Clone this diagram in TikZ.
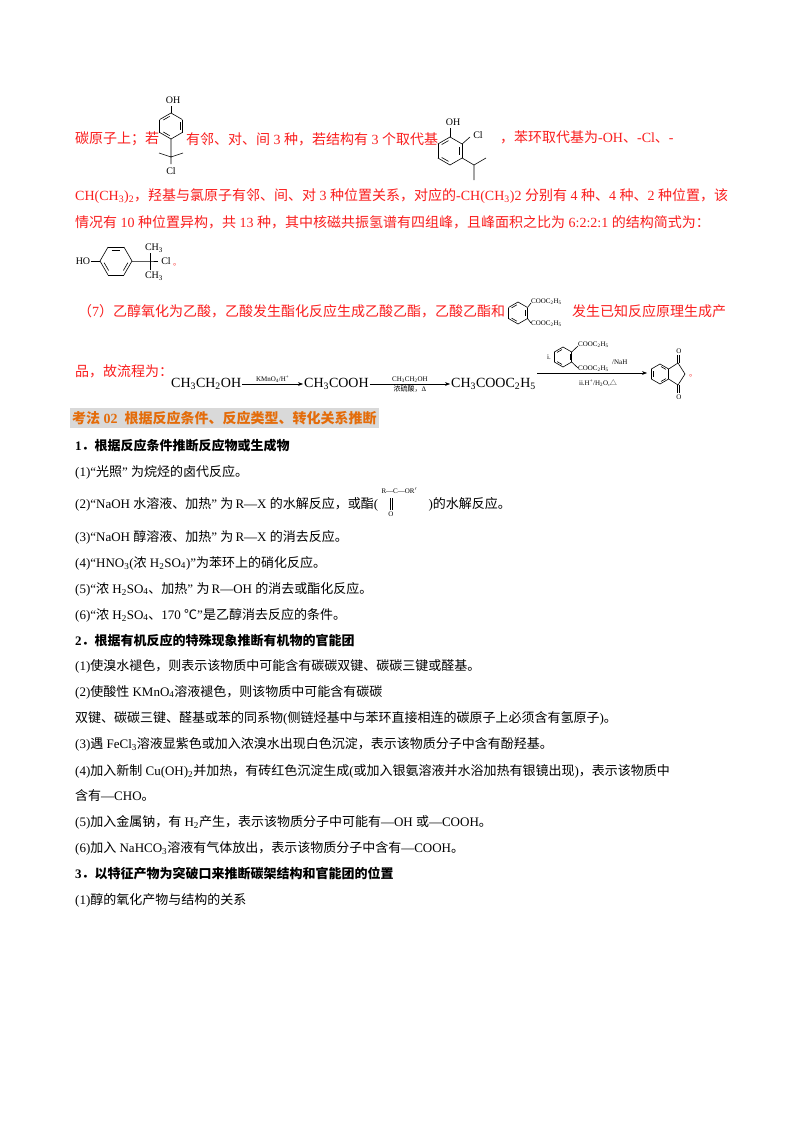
\documentclass[tikz,border=0pt]{standalone}
\usepackage{fontspec}
\setmainfont{Liberation Serif}
\newfontfamily\cjk{Noto Sans CJK SC}
\usetikzlibrary{arrows.meta}
\XeTeXinterchartokenstate=1
\newXeTeXintercharclass\CJKc
\makeatletter
\def\setcls#1#2{\count@=#1\relax\loop\XeTeXcharclass\count@=\CJKc\advance\count@ 1\relax\ifnum\count@<#2\repeat}
\setcls{"4E00}{"A000}
\setcls{"3000}{"3040}
\setcls{"FF00}{"FFF0}
\XeTeXcharclass"2103=\CJKc
\XeTeXcharclass"25B3=\CJKc
\makeatother
\XeTeXinterchartoks 0 \CJKc = {\begingroup\cjk}
\XeTeXinterchartoks 4095 \CJKc = {\begingroup\cjk}
\XeTeXinterchartoks \CJKc 0 = {\endgroup}
\XeTeXinterchartoks \CJKc 4095 = {\endgroup}
\definecolor{red1}{RGB}{250,30,30}
\definecolor{org}{RGB}{228,108,10}
\definecolor{hgray}{RGB}{217,217,217}
\newcommand\sub[1]{\textsubscript{#1}}
\newcommand\sps[1]{\textsuperscript{#1}}
% hexagon: x, y, r, start angle
\newcommand\hexring[4]{%
 \foreach \i in {0,...,5}{\draw[chem] ({#1+#3*cos(#4+60*\i)},{#2+#3*sin(#4+60*\i)}) -- ({#1+#3*cos(#4+60*\i+60)},{#2+#3*sin(#4+60*\i+60)});}
 \foreach \i in {0,2,4}{\draw[chem] ({#1+0.75*#3*cos(#4+60*\i+8)},{#2+0.75*#3*sin(#4+60*\i+8)}) -- ({#1+0.75*#3*cos(#4+60*\i+52)},{#2+0.75*#3*sin(#4+60*\i+52)});}}
\begin{document}
\begin{tikzpicture}[x=1pt,y=-1pt,
 rtxt/.style={anchor=west,inner sep=0pt,text=red1,font=\fontsize{14}{16}\selectfont},
 btxt/.style={anchor=west,inner sep=0pt,font=\fontsize{13}{15}\selectfont},
 bold/.style={btxt,font=\fontsize{13}{15}\selectfont\bfseries},
 chem/.style={line width=0.6pt},
 lab/.style={inner sep=0pt,font=\fontsize{10}{11}\selectfont},
 flow/.style={inner sep=1pt,font=\fontsize{14}{16}\selectfont,anchor=west},
 tiny/.style={inner sep=0pt,font=\fontsize{7}{8}\selectfont}]
\useasboundingbox[fill=white] (0,0) rectangle (800,1132);
% ---- line 1
\node[rtxt] (t1a) at (75,139) {碳原子上；若};
\hexring{171}{126}{13}{90}
\node[lab] (s1oh) at (173,100) {OH};
\draw[chem] (171,106) -- (171,113);
\draw[chem] (171,139) -- (171,157) (171,157) -- (159,153) (171,157) -- (183,153) (171,157) -- (171,164);
\node[lab] (s1cl) at (171,171) {Cl};
\node[rtxt] (t1b) at (186,139) {有邻、对、间 3 种，若结构有 3 个取代基};
\hexring{450}{151}{14}{90}
\node[lab] (s2oh) at (453,122) {OH};
\draw[chem] (450,128) -- (450,137);
\draw[chem] ({450+14*cos(30)},144) -- (470,137);
\node[lab] (s2cl) at (478,135) {Cl};
\draw[chem] ({450+14*cos(30)},158) -- (474,165) -- (486,158) (474,165) -- (474,180);
\node[rtxt] (t1c) at (500,137) {，苯环取代基为-OH、-Cl、-};
% ---- lines 2,3
\node[rtxt] (t2) at (75,196) {CH(CH\sub{3})\sub{2}，羟基与氯原子有邻、间、对 3 种位置关系，对应的-CH(CH\sub{3})2 分别有 4 种、4 种、2 种位置，该};
\node[rtxt] (t3) at (75,222) {情况有 10 种位置异构，共 13 种，其中核磁共振氢谱有四组峰，且峰面积之比为 6:2:2:1 的结构简式为：};
% structure 3
\node[lab] (s3ho) at (83,261) {HO};
\draw[chem] (91,261) -- (100,261);
\hexring{116}{261}{16}{0}
\draw[chem] (132,261) -- (150,261) -- (158,261) (150,261) -- (150,253) (150,261) -- (150,270);
\node[lab] (s3c1) at (154,248) {CH\sub{3}};
\node[lab] (s3cl) at (166,261) {Cl};
\node[lab] (s3c2) at (154,276) {CH\sub{3}};
\node[rtxt,font=\fontsize{8}{9}\selectfont] (s3dot) at (173,265) {。};
% ---- (7)
\node[rtxt] (t7) at (78,311) {（7）乙醇氧化为乙酸，乙酸发生酯化反应生成乙酸乙酯，乙酸乙酯和};
\hexring{518}{313}{11}{90}
\draw[chem] ({518+11*cos(30)},307.5) -- (531,303) ({518+11*cos(30)},318.5) -- (531,323);
\node[tiny,anchor=west] (s4a) at (531,302) {COOC\sub{2}H\sub{5}};
\node[tiny,anchor=west] (s4b) at (531,324) {COOC\sub{2}H\sub{5}};
\node[rtxt] (t7b) at (572,311) {发生已知反应原理生成产};
\node[rtxt] (t8) at (75,371) {品，故流程为：};
% ---- flow
\node[flow] (f1) at (170,384) {CH\sub{3}CH\sub{2}OH};
\node[flow] (f2) at (303,384) {CH\sub{3}COOH};
\node[flow] (f3) at (450,384) {CH\sub{3}COOC\sub{2}H\sub{5}};
\coordinate (f4) at (647,373);
\draw[-{Stealth[length=5pt]},line width=0.5pt] (f1.east) -- node[above=1pt,tiny]{KMnO\sub{4}/H\sps{+}} (f2.west);
\draw[-{Stealth[length=5pt]},line width=0.5pt] (f2.east) -- node[above=1pt,tiny]{CH\sub{3}CH\sub{2}OH} node[below=1pt,tiny]{浓硫酸，Δ} (f3.west);
\draw[-{Stealth[length=5pt]},line width=0.5pt] (f4 -| f3.east) -- (f4);
\node[tiny,anchor=west] (fi) at (547,357) {i.};
\hexring{563}{357}{10}{90}
\draw[chem] ({563+10*cos(30)},352) -- (578,346) ({563+10*cos(30)},362) -- (578,368);
\node[tiny,anchor=west] (fa) at (578,345) {COOC\sub{2}H\sub{5}};
\node[tiny,anchor=west] (fb) at (578,369) {COOC\sub{2}H\sub{5}};
\node[tiny,anchor=west] (fn) at (612,362) {/NaH};
\node[tiny] (fii) at (598,383) {ii.H\sps{+}/H\sub{2}O,△};
% indanedione
\hexring{660}{374}{10}{30}
\draw[chem] ({660+10*cos(30)},369) -- (678,363) -- (685,374) -- (678,385) -- ({660+10*cos(30)},379);
\draw[chem] (677,363) -- (677,355) (679,363) -- (679,355) (677,385) -- (677,393) (679,385) -- (679,393);
\node[tiny] (oa) at (679,351) {O};
\node[tiny] (ob) at (679,397) {O};
\node[rtxt,font=\fontsize{8}{9}\selectfont] (fdot) at (689,376) {。};
% ---- heading
\node[anchor=west,fill=hgray,text=org,inner xsep=2pt,inner ysep=2pt,minimum height=20pt,font=\fontsize{14}{16}\selectfont\bfseries] (h1) at (70,418) {考法 02\ \ 根据反应条件、反应类型、转化关系推断};
\node[bold] (b1) at (75,446) {1．根据反应条件推断反应物或生成物};
\node[btxt] (l1) at (75,472) {(1)“光照”\ 为烷烃的卤代反应。};
\node[btxt] (l2) at (75,504) {(2)“NaOH 水溶液、加热”\ 为\,R—X 的水解反应，或酯(};
\node[tiny,anchor=west] (es) at ([xshift=3pt,yshift=13pt]l2.east) {R—C—OR$'$};
\draw[line width=0.4pt] ([xshift=8.5pt,yshift=-4pt]es.south west) -- ++(0,-12pt) ([xshift=10.5pt,yshift=-4pt]es.south west) -- ++(0,-12pt);
\node[tiny] (eo) at ([xshift=9.5pt,yshift=-20pt]es.south west) {O};
\node[btxt] (l2b) at ([xshift=50pt]l2.east) {)的水解反应。};
\node[btxt] (l3) at (75,537) {(3)“NaOH 醇溶液、加热”\ 为\,R—X 的消去反应。};
\node[btxt] (l4) at (75,563) {(4)“HNO\sub{3}(浓 H\sub{2}SO\sub{4})”为苯环上的硝化反应。};
\node[btxt] (l5) at (75,589) {(5)“浓 H\sub{2}SO\sub{4}、加热”\ 为\,R—OH 的消去或酯化反应。};
\node[btxt] (l6) at (75,615) {(6)“浓 H\sub{2}SO\sub{4}、170 ℃”是乙醇消去反应的条件。};
\node[bold] (b2) at (75,641) {2．根据有机反应的特殊现象推断有机物的官能团};
\node[btxt] (m1) at (75,666) {(1)使溴水褪色，则表示该物质中可能含有碳碳双键、碳碳三键或醛基。};
\node[btxt] (m2) at (75,692) {(2)使酸性 KMnO\sub{4}溶液褪色，则该物质中可能含有碳碳};
\node[btxt] (m2b) at (75,718) {双键、碳碳三键、醛基或苯的同系物(侧链烃基中与苯环直接相连的碳原子上必须含有氢原子)。};
\node[btxt] (m3) at (75,744) {(3)遇 FeCl\sub{3}溶液显紫色或加入浓溴水出现白色沉淀，表示该物质分子中含有酚羟基。};
\node[btxt] (m4) at (75,771) {(4)加入新制 Cu(OH)\sub{2}并加热，有砖红色沉淀生成(或加入银氨溶液并水浴加热有银镜出现)，表示该物质中};
\node[btxt] (m4b) at (75,796) {含有—CHO。};
\node[btxt] (m5) at (75,822) {(5)加入金属钠，有 H\sub{2}产生，表示该物质分子中可能有—OH 或—COOH。};
\node[btxt] (m6) at (75,848) {(6)加入 NaHCO\sub{3}溶液有气体放出，表示该物质分子中含有—COOH。};
\node[bold] (b3) at (75,874) {3．以特征产物为突破口来推断碳架结构和官能团的位置};
\node[btxt] (n1) at (75,900) {(1)醇的氧化产物与结构的关系};
\end{tikzpicture}
\end{document}
